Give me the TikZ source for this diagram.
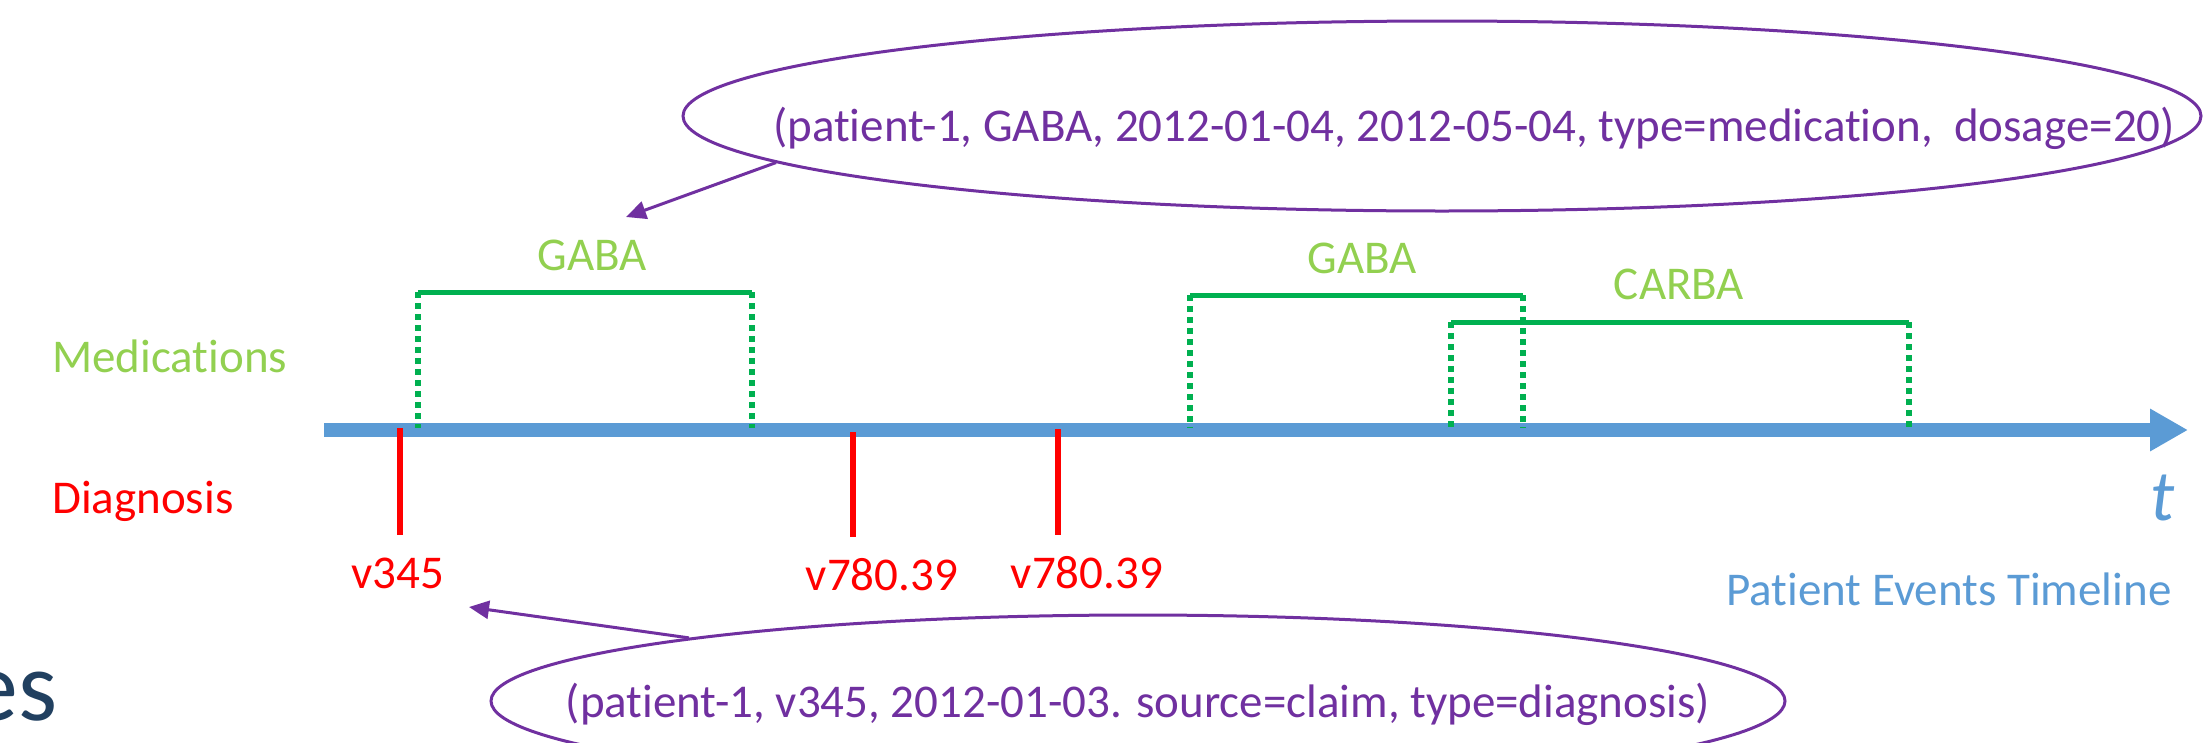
\documentclass[tikz,border=0pt]{standalone}
\usepackage{fontspec}
\setmainfont{Carlito}[Ligatures={NoCommon}]
\usetikzlibrary{arrows.meta,shapes.geometric}
\definecolor{tlblue}{HTML}{5B9BD5}
\definecolor{medgreen}{HTML}{92D050}
\definecolor{bargreen}{HTML}{00B050}
\definecolor{dxred}{HTML}{FF0000}
\definecolor{recpurple}{HTML}{7030A0}
\definecolor{titleblue}{RGB}{33,64,96}
\begin{document}
\begin{tikzpicture}[x=1pt,y=-1pt,
  lbl/.style={font=\fontsize{47}{56}\selectfont, inner sep=0pt, anchor=base},
  medlbl/.style={lbl, text=medgreen},
  dxlbl/.style={lbl, text=dxred},
  bar/.style={draw=bargreen, line width=5pt},
  dotline/.style={draw=bargreen, line width=6pt, dash pattern=on 6pt off 5pt},
  dxtick/.style={draw=dxred, line width=6pt},
  rec/.style={draw=recpurple, line width=3pt, ellipse, inner sep=0pt},
  recarrow/.style={draw=recpurple, line width=3pt, -{Triangle[length=20pt,width=18pt]}},
  rectext/.style={lbl, text=recpurple}
]
\clip (0,0) rectangle (2212,742);
% timeline
\coordinate (tlstart) at (324,430);
\coordinate (tlend) at (2188,430);
\draw[tlblue, line width=14pt, -{Triangle[length=38pt,width=40pt]}] (tlstart) -- (tlend);
\node[lbl, text=tlblue, font=\fontsize{72}{80}\selectfont\itshape] (tvar) at (2163,520) {t};
\node[lbl, text=tlblue] (tltitle) at (1949,605) {Patient Events Timeline};
% left labels
\node[medlbl, anchor=base west] (medlabel) at (52,372) {Medications};
\node[dxlbl, anchor=base west] (dxlabel) at (52,513) {Diagnosis};
\node[inner sep=0pt, anchor=base east, text=titleblue, font=\fontsize{100}{110}\selectfont] (es) at (58,720) {es};
% medication bars
\coordinate (g1a) at (418,292); \coordinate (g1b) at (752,292);
\coordinate (g2a) at (1190,295); \coordinate (g2b) at (1523,295);
\coordinate (c1a) at (1451,322); \coordinate (c1b) at (1909,322);
\coordinate (tltop) at (0,428);
\draw[bar] (g1a) -- (g1b);
\draw[bar] (g2a) -- (g2b);
\draw[bar] (c1a) -- (c1b);
\foreach \p in {g1a,g1b,g2a,g2b,c1a,c1b} {\draw[dotline] (\p) -- (\p |- tltop);}
\node[medlbl] (gaba1) at (592,270) {GABA};
\node[medlbl] (gaba2) at (1362,273) {GABA};
\node[medlbl] (carba) at (1679,299) {CARBA};
% diagnosis ticks
\coordinate (d1a) at (400,428); \coordinate (d1b) at (400,535);
\coordinate (d2a) at (853,432); \coordinate (d2b) at (853,537);
\coordinate (d3a) at (1058,429); \coordinate (d3b) at (1058,535);
\draw[dxtick] (d1a) -- (d1b);
\draw[dxtick] (d2a) -- (d2b);
\draw[dxtick] (d3a) -- (d3b);
\node[dxlbl] (v345) at (398,588) {v345};
\node[dxlbl] (v780a) at (882,590) {v780.39};
\node[dxlbl] (v780b) at (1087,588) {v780.39};
% record ellipses
\node[rec, minimum width=1518pt, minimum height=190pt] (topell) at (1442,116) {};
\node[rectext] (toptext) at (1474,141) {(patient-1, GABA, 2012-01-04, 2012-05-04, type=medication,\ \ dosage=20)};
\node[rec, minimum width=1294pt, minimum height=172pt] (botell) at (1138,701) {};
\node[rectext] (bottext) at (1138,717) {(patient-1, v345, 2012-01-03. source=claim, type=diagnosis)};
\coordinate (toptip) at (626,217);
\coordinate (bottip) at (469,607);
\draw[recarrow] (topell.184) -- (toptip);
\draw[recarrow] (botell.172) -- (bottip);
\end{tikzpicture}
\end{document}
